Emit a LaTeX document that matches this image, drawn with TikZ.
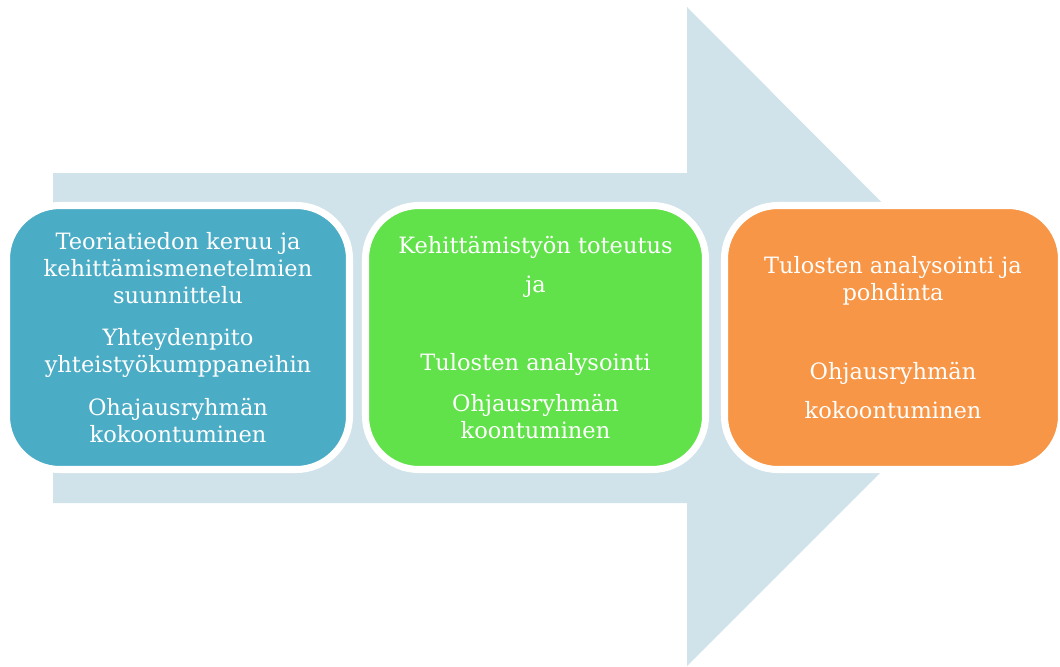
\documentclass[tikz,border=0pt]{standalone}
\usepackage{fontspec}
\setmainfont{DejaVu Serif}
\definecolor{arrowblue}{HTML}{D1E3EA}
\definecolor{phaseblue}{HTML}{4BACC6}
\definecolor{phasegreen}{HTML}{62E24A}
\definecolor{phaseorange}{HTML}{F79646}
\tikzset{phase/.style={draw=white, line width=5, rounded corners=38, text=white, align=center,
    font=\fontsize{16}{19.2}\selectfont, inner sep=0pt}}

\begin{document}
\begin{tikzpicture}[x=0.025cm, y=-0.025cm]
			%%%%% START %%%%%
			
			\useasboundingbox (0, 0) rectangle (1060, 666);
			
			\fill[arrowblue] (53, 173) -- (687, 173) -- (687, 7) -- (1016, 337) -- (687, 666) -- (687, 503) -- (53, 503) -- cycle;
			
			\node[phase, fill=phaseblue, minimum width=343*0.025cm, minimum height=264*0.025cm] (teoria) at (178, 337.5)
			{Teoriatiedon keruu ja\\kehittämismenetelmien\\suunnittelu\\[11pt]
			 Yhteydenpito\\yhteistyökumppaneihin\\[11pt]
			 Ohajausryhmän\\kokoontuminen};
			
			\node[phase, fill=phasegreen, minimum width=340*0.025cm, minimum height=264*0.025cm] (toteutus) at (535.5, 337.5)
			{Kehittämistyön toteutus\\[9pt]ja\\[36pt]
			 Tulosten analysointi\\[10pt]
			 Ohjausryhmän\\koontuminen};
			
			\node[phase, fill=phaseorange, minimum width=337*0.025cm, minimum height=264*0.025cm] (pohdinta) at (893, 337.5)
			{Tulosten analysointi ja\\pohdinta\\[37pt]
			 Ohjausryhmän\\[8pt]kokoontuminen};
			
			%%%%% END %%%%%
\end{tikzpicture}
\end{document}
